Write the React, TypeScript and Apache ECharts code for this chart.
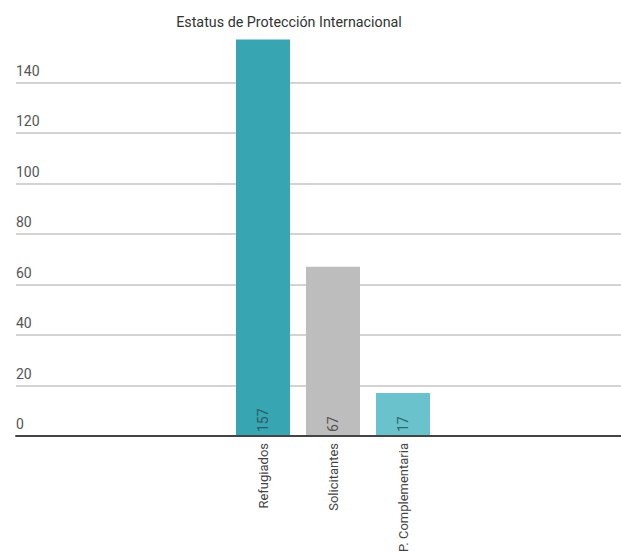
import React, { useEffect, useRef } from "react";
import * as echarts from "echarts";

const title = "Estatus de Protección Internacional";
const categories = ["Refugiados", "Solicitantes", "P. Complementaria"];
const values = [157, 67, 17];
const barColors = ["#38a5b3", "#bdbdbd", "#69c2cc"];
const valueLabelColors = ["#2b5c66", "#555555", "#2f6670"];
const yMin = 0;
const yMax = 160;
const yInterval = 20;

const FONT = "Roboto, 'Liberation Sans', sans-serif";

export default function App() {
  const ref = useRef<HTMLDivElement>(null);
  useEffect(() => {
    document.body.style.margin = "0";
    const chart = echarts.init(ref.current!, undefined, { renderer: "svg" });
    const gridLineColors = [];
    for (let v = yMin; v <= yMax; v += yInterval) {
      gridLineColors.push(v === yMax ? "rgba(0,0,0,0)" : "#c4c4c4");
    }
    chart.setOption({
      animation: false,
      title: {
        text: title,
        left: 284,
        textAlign: "center",
        top: 10,
        textStyle: { fontFamily: FONT, fontSize: 14.3, fontWeight: "normal", color: "#333" },
      },
      grid: [
        { left: 16, right: 0, top: 32, bottom: 122, containLabel: false, outerBoundsMode: "none" },
        { left: 228, width: 210, top: 32, bottom: 122, containLabel: false, outerBoundsMode: "none" },
      ],
      xAxis: [
        {
          type: "category",
          gridIndex: 0,
          data: [""],
          axisLine: { show: true, lineStyle: { color: "#444", width: 2 } },
          axisTick: { show: false },
          axisLabel: { show: false },
          z: 10,
        },
        {
          type: "category",
          gridIndex: 1,
          data: categories,
          axisLine: { show: false },
          axisTick: { show: false },
          axisLabel: {
            rotate: 90,
            margin: 7,
            fontFamily: FONT,
            fontSize: 13,
            color: "#444",
            interval: 0,
          },
        },
      ],
      yAxis: [
        {
          type: "value",
          gridIndex: 0,
          min: yMin,
          max: yMax,
          interval: yInterval,
          axisLine: { show: false },
          axisTick: { show: false },
          splitLine: { show: true, lineStyle: { color: gridLineColors, width: 1.5 } },
          axisLabel: {
            inside: true,
            margin: 0,
            verticalAlign: "bottom",
            padding: [0, 0, 5, 0],
            fontFamily: FONT,
            fontSize: 14,
            color: "#555",
            formatter: (v: number) => (v === yMax ? "" : String(v)),
          },
        },
        {
          type: "value",
          gridIndex: 1,
          min: yMin,
          max: yMax,
          interval: yInterval,
          show: false,
          splitLine: { show: false },
        },
      ],
      series: [
        {
          type: "bar",
          xAxisIndex: 1,
          yAxisIndex: 1,
          barWidth: 54,
          data: values.map((v, i) => ({
            value: v,
            itemStyle: { color: barColors[i] },
            label: { color: valueLabelColors[i] },
          })),
          label: {
            show: true,
            position: "insideBottom",
            rotate: 90,
            align: "left",
            verticalAlign: "middle",
            distance: 4,
            fontFamily: FONT,
            fontSize: 14,
          },
        },
      ],
    });
    return () => chart.dispose();
  }, []);
  return <div ref={ref} style={{ width: 621, height: 558 }} />;
}
